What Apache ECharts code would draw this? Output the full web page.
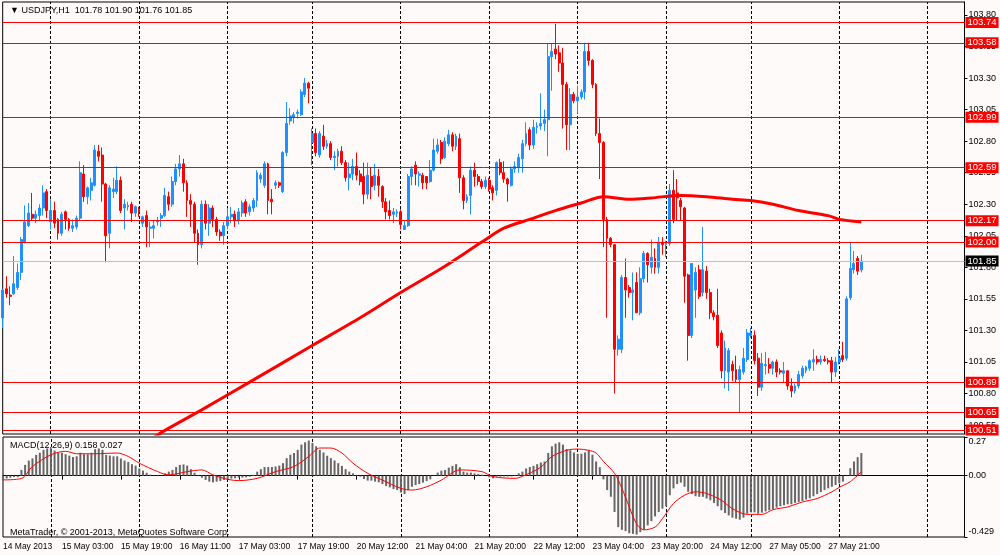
<!DOCTYPE html>
<html>
<head>
<meta charset="utf-8">
<title>USDJPY,H1</title>
<script src="https://cdn.jsdelivr.net/npm/echarts@6/dist/echarts.min.js"></script>
<style>html,body{margin:0;padding:0;background:#fffafa}</style>
</head>
<body>
<div id="main" style="width:1000px;height:555px"></div>
<script>
// time axis labels, one every 16 bars
var tickLabels = ['14 May 2013', '15 May 03:00', '15 May 19:00', '16 May 11:00', '17 May 03:00',
  '17 May 19:00', '20 May 12:00', '21 May 04:00', '21 May 20:00', '22 May 12:00',
  '23 May 04:00', '23 May 20:00', '24 May 12:00', '27 May 05:00', '27 May 21:00'];
var levels = [103.74, 103.58, 102.99, 102.59, 102.17, 102.00, 100.89, 100.65, 100.51];
var lastPrice = 101.85;
var dayLines = [13, 37, 61, 84, 108, 132, 156, 180, 203, 227, 251];
var priceTicks = [100.55, 100.80, 101.05, 101.30, 101.55, 101.80, 102.05, 102.30, 102.55, 102.80, 103.05, 103.30, 103.55, 103.80];
var macdTicks = [0.27, 0, -0.429];

// open, close, low, high
var candles = [
  [101.40,101.62,101.32,101.63],[101.63,101.59,101.56,101.73],[101.58,101.57,101.50,101.65],[101.59,101.67,101.58,101.89],[101.64,101.76,101.62,101.83],
  [101.76,102.02,101.70,102.04],[102.00,102.16,101.99,102.29],[102.13,102.23,102.12,102.31],[102.22,102.19,102.17,102.39],[102.19,102.22,102.15,102.25],
  [102.21,102.27,102.17,102.30],[102.27,102.39,102.21,102.45],[102.40,102.25,102.19,102.42],[102.16,102.25,102.10,102.34],[102.25,102.15,102.11,102.32],
  [102.18,102.07,102.02,102.19],[102.07,102.22,102.05,102.24],[102.24,102.18,102.10,102.25],[102.18,102.11,102.09,102.19],[102.11,102.13,102.08,102.18],
  [102.12,102.19,102.10,102.21],[102.19,102.55,102.17,102.64],[102.54,102.36,102.32,102.61],[102.36,102.43,102.30,102.44],[102.41,102.47,102.33,102.51],
  [102.45,102.73,102.44,102.77],[102.72,102.68,102.64,102.77],[102.69,102.46,102.32,102.75],[102.46,102.05,101.84,102.47],[102.07,102.43,101.95,102.45],
  [102.40,102.42,102.35,102.51],[102.40,102.49,102.38,102.60],[102.49,102.25,102.23,102.52],[102.27,102.30,102.10,102.34],[102.28,102.29,102.25,102.32],
  [102.30,102.23,102.16,102.32],[102.23,102.28,102.20,102.29],[102.26,102.24,102.20,102.28],[102.15,102.20,102.12,102.21],[102.21,102.12,101.96,102.25],
  [102.11,102.12,101.96,102.16],[102.11,102.13,102.03,102.17],[102.16,102.17,102.13,102.20],[102.19,102.21,102.12,102.23],[102.21,102.37,102.20,102.43],
  [102.36,102.30,102.25,102.40],[102.30,102.48,102.28,102.52],[102.48,102.58,102.45,102.62],[102.58,102.62,102.52,102.69],[102.62,102.47,102.40,102.66],
  [102.47,102.33,102.20,102.49],[102.33,102.30,102.12,102.38],[102.30,102.07,102.00,102.32],[102.07,101.98,101.82,102.10],[101.98,102.30,101.95,102.33],
  [102.30,102.15,102.10,102.33],[102.15,102.27,102.05,102.30],[102.27,102.18,102.12,102.29],[102.18,102.08,102.05,102.20],[102.08,102.05,102.01,102.10],
  [102.05,102.13,101.98,102.16],[102.13,102.20,102.10,102.27],[102.20,102.22,102.15,102.28],[102.22,102.17,102.12,102.25],[102.17,102.24,102.14,102.27],
  [102.23,102.31,102.20,102.33],[102.32,102.23,102.20,102.34],[102.24,102.28,102.21,102.30],[102.27,102.33,102.24,102.35],[102.33,102.55,102.28,102.57],
  [102.50,102.53,102.47,102.55],[102.45,102.62,102.43,102.64],[102.62,102.33,102.22,102.63],[102.34,102.32,102.22,102.42],[102.45,102.47,102.42,102.49],
  [102.47,102.45,102.43,102.48],[102.40,102.71,102.39,102.72],[102.71,102.94,102.68,103.11],[102.96,103.00,102.93,103.06],[102.99,103.01,102.94,103.03],
  [103.02,103.03,102.98,103.05],[103.01,103.19,103.00,103.21],[103.17,103.26,103.15,103.30],[103.26,103.22,103.10,103.27],[102.79,102.86,102.61,102.90],
  [102.86,102.71,102.68,102.90],[102.69,102.86,102.67,102.88],[102.84,102.76,102.73,102.93],[102.76,102.78,102.74,102.81],[102.78,102.67,102.65,102.80],
  [102.67,102.68,102.57,102.72],[102.68,102.72,102.60,102.74],[102.72,102.63,102.61,102.76],[102.63,102.51,102.48,102.65],[102.51,102.54,102.41,102.63],
  [102.54,102.60,102.49,102.66],[102.60,102.53,102.49,102.71],[102.54,102.48,102.45,102.57],[102.52,102.38,102.30,102.63],[102.38,102.53,102.34,102.63],
  [102.52,102.44,102.34,102.59],[102.45,102.53,102.41,102.62],[102.52,102.45,102.36,102.58],[102.44,102.32,102.27,102.45],[102.32,102.24,102.18,102.35],
  [102.25,102.21,102.18,102.33],[102.22,102.24,102.15,102.27],[102.23,102.24,102.20,102.26],[102.24,102.14,102.10,102.26],[102.10,102.13,102.10,102.17],
  [102.13,102.52,102.12,102.54],[102.52,102.58,102.45,102.60],[102.61,102.54,102.45,102.64],[102.53,102.54,102.44,102.56],[102.53,102.47,102.42,102.55],
  [102.52,102.47,102.42,102.52],[102.48,102.57,102.47,102.65],[102.57,102.73,102.56,102.82],[102.72,102.77,102.70,102.82],[102.79,102.66,102.62,102.81],
  [102.67,102.80,102.66,102.83],[102.78,102.85,102.76,102.89],[102.85,102.76,102.72,102.87],[102.76,102.84,102.73,102.86],[102.82,102.51,102.39,102.86],
  [102.51,102.33,102.26,102.53],[102.33,102.36,102.31,102.38],[102.37,102.57,102.22,102.60],[102.57,102.52,102.44,102.63],[102.52,102.48,102.45,102.54],
  [102.48,102.44,102.42,102.50],[102.44,102.49,102.42,102.52],[102.49,102.42,102.40,102.51],[102.43,102.39,102.33,102.45],[102.41,102.63,102.37,102.64],
  [102.63,102.55,102.53,102.66],[102.55,102.50,102.47,102.64],[102.50,102.46,102.32,102.51],[102.45,102.58,102.44,102.60],[102.58,102.60,102.55,102.64],
  [102.59,102.67,102.55,102.70],[102.66,102.78,102.55,102.81],[102.78,102.86,102.76,102.95],[102.89,102.77,102.73,102.91],[102.77,102.91,102.74,102.97],
  [102.91,102.92,102.86,102.95],[102.92,102.94,102.89,103.18],[102.94,102.97,102.88,103.05],[102.97,103.47,102.68,103.57],[103.47,103.51,103.20,103.57],
  [103.53,103.49,103.45,103.73],[103.50,103.42,103.35,103.56],[103.42,103.25,102.90,103.54],[103.25,102.93,102.73,103.27],[102.93,103.17,102.73,103.22],
  [103.17,103.12,103.10,103.19],[103.12,103.15,103.02,103.24],[103.15,103.19,103.13,103.21],[103.19,103.51,103.13,103.58],[103.51,103.44,103.40,103.58],
  [103.44,103.25,103.22,103.45],[103.25,102.86,102.84,103.26],[102.86,102.79,102.50,102.98],[102.79,102.18,101.96,102.80],[102.18,102.03,101.40,102.20],
  [102.03,101.98,101.96,102.04],[101.98,101.15,100.80,101.98],[101.15,101.23,101.10,101.26],[101.15,101.72,101.12,101.74],[101.72,101.62,101.40,101.87],
  [101.64,101.60,101.56,101.66],[101.60,101.62,101.38,101.76],[101.68,101.44,101.44,101.76],[101.44,101.71,101.42,101.80],[101.71,101.91,101.68,101.93],
  [101.91,101.82,101.68,101.92],[101.80,101.88,101.75,102.02],[101.87,101.80,101.75,101.95],[101.80,102.00,101.75,102.04],[102.00,101.98,101.90,102.04],
  [101.98,101.99,101.88,102.01],[101.99,102.41,101.97,102.46],[102.41,102.18,102.15,102.57],[102.39,102.35,102.17,102.50],[102.33,102.28,102.17,102.35],
  [102.27,101.73,101.52,102.28],[101.74,101.26,101.06,101.75],[101.26,101.83,101.24,101.83],[101.62,101.76,101.40,101.80],[101.78,101.57,101.55,101.82],
  [101.60,101.78,101.57,102.12],[101.77,101.60,101.55,101.81],[101.60,101.44,101.39,101.63],[101.44,101.41,101.38,101.46],[101.42,101.18,101.16,101.63],
  [101.28,100.98,100.92,101.30],[100.98,101.16,100.84,101.22],[100.97,101.14,100.82,101.16],[101.03,100.98,100.90,101.06],[100.99,100.91,100.89,101.10],
  [100.91,100.99,100.65,101.02],[100.97,101.08,100.95,101.16],[101.07,101.28,101.05,101.31],[101.26,101.28,101.24,101.32],[101.26,101.06,101.03,101.30],
  [101.08,100.85,100.78,101.12],[100.85,101.04,100.82,101.12],[101.02,101.03,100.95,101.13],[101.03,101.00,100.96,101.08],[101.00,101.05,100.95,101.06],
  [101.05,100.97,100.93,101.07],[100.98,100.97,100.95,101.00],[100.96,100.98,100.89,101.05],[100.98,100.86,100.83,100.98],[100.86,100.82,100.77,100.92],
  [100.82,100.86,100.80,100.88],[100.86,100.95,100.84,100.98],[100.94,101.00,100.92,101.02],[100.98,101.01,100.96,101.02],[101.00,101.06,100.98,101.07],
  [101.05,101.07,100.98,101.15],[101.07,101.05,101.03,101.10],[101.05,101.07,101.03,101.10],[101.07,101.06,101.05,101.10],[101.06,101.05,101.03,101.08],
  [101.06,100.97,100.89,101.09],[100.97,101.05,100.93,101.09],[101.05,101.08,101.03,101.15],[101.10,101.07,101.05,101.21],[101.08,101.55,101.06,101.57],
  [101.56,101.79,101.54,102.00],[101.78,101.83,101.75,101.93],[101.87,101.77,101.74,101.89],[101.78,101.85,101.76,101.90]
];

// moving average: [bar, price]
var maLine = [[40,100.43],[43,100.49],[54,100.67],[67,100.89],[84,101.18],[97,101.40],[108,101.60],[119,101.79],
  [130,102.00],[136,102.11],[143,102.18],[150,102.25],[157,102.31],[163,102.36],[170,102.34],[176,102.35],
  [184,102.37],[191,102.36],[198,102.34],[203,102.33],[209,102.30],[216,102.25],[224,102.21],[227,102.18],[233,102.16]];

var macdHist = [
  -0.03,-0.02,-0.015,-0.01,-0.01,0.04,0.075,0.105,0.12,0.145,
  0.16,0.18,0.19,0.19,0.175,0.16,0.16,0.15,0.14,0.13,
  0.135,0.16,0.15,0.15,0.16,0.185,0.19,0.18,0.145,0.14,
  0.135,0.135,0.12,0.105,0.095,0.08,0.07,0.05,0.035,0.02,
  0.007,-0.003,-0.003,0.002,0.016,0.028,0.04,0.06,0.075,0.078,
  0.07,0.045,0.02,-0.003,-0.015,-0.03,-0.042,-0.047,-0.042,-0.038,
  -0.03,-0.026,-0.021,-0.019,-0.014,-0.014,-0.012,-0.007,0.005,0.028,
  0.045,0.06,0.06,0.06,0.064,0.07,0.087,0.122,0.146,0.158,
  0.18,0.217,0.233,0.245,0.228,0.205,0.18,0.162,0.139,0.122,
  0.106,0.087,0.068,0.045,0.028,0.016,0.005,-0.007,-0.024,-0.035,
  -0.035,-0.042,-0.047,-0.059,-0.073,-0.082,-0.094,-0.101,-0.118,-0.129,
  -0.101,-0.078,-0.066,-0.059,-0.049,-0.038,-0.026,-0.002,0.021,0.035,
  0.04,0.056,0.068,0.08,0.059,0.028,0.021,0.021,0.016,0.012,
  0.007,0,-0.012,-0.019,-0.007,-0.007,-0.006,-0.006,-0.005,0.002,
  0.016,0.028,0.05,0.06,0.068,0.08,0.092,0.099,0.158,0.205,
  0.224,0.233,0.217,0.186,0.177,0.162,0.153,0.153,0.162,0.177,
  0.146,0.099,0.059,-0.026,-0.101,-0.148,-0.254,-0.36,-0.379,-0.388,
  -0.403,-0.407,-0.412,-0.395,-0.377,-0.348,-0.318,-0.285,-0.254,-0.231,
  -0.214,-0.137,-0.089,-0.059,-0.049,-0.078,-0.113,-0.129,-0.144,-0.148,
  -0.148,-0.16,-0.172,-0.191,-0.214,-0.242,-0.261,-0.278,-0.294,-0.301,
  -0.308,-0.294,-0.266,-0.257,-0.257,-0.266,-0.259,-0.25,-0.242,-0.233,
  -0.224,-0.214,-0.207,-0.2,-0.2,-0.191,-0.184,-0.177,-0.167,-0.158,
  -0.144,-0.129,-0.115,-0.101,-0.089,-0.078,-0.066,-0.054,-0.042,-0.002,
  0.052,0.099,0.129,0.158
];

var macdSignal = [[0,-0.03],[5,-0.02],[8,0.064],[13,0.146],[17,0.17],[20,0.153],[25,0.153],[31,0.158],[34,0.134],
  [37,0.087],[42,0.028],[45,0.005],[50,0.028],[54,0.04],[57,0.005],[61,-0.026],[64,-0.035],[69,-0.019],[74,0.028],
  [79,0.064],[83,0.134],[86,0.193],[89,0.193],[92,0.158],[95,0.087],[99,0.016],[103,-0.031],[108,-0.089],[111,-0.101],
  [115,-0.078],[119,-0.031],[124,0.04],[130,0.028],[133,-0.007],[139,-0.019],[141,-0.005],[146,0.059],[149,0.134],
  [153,0.177],[156,0.186],[159,0.177],[161,0.158],[163,0.099],[166,0.016],[168,-0.089],[170,-0.219],[172,-0.337],
  [174,-0.379],[177,-0.36],[179,-0.301],[182,-0.195],[185,-0.137],[188,-0.113],[191,-0.125],[195,-0.172],[198,-0.231],
  [202,-0.271],[206,-0.271],[209,-0.238],[213,-0.219],[217,-0.184],[221,-0.16],[225,-0.113],[227,-0.082],[230,-0.042],[233,0.027]];

var slots = 262;
var cats = [];
for (var i = 0; i < slots; i++) cats.push(String(i));

var FONT = 'Liberation Sans';
var showTick = function (idx) { return idx % 16 === 0 && idx <= 224; };

var chart = echarts.init(document.getElementById('main'));

var levelLines = levels.map(function (v) {
  return { yAxis: v, lineStyle: { color: '#ff0000', width: 1, type: 'solid' },
    label: { backgroundColor: '#ff0000', color: '#ffffff' } };
});
levelLines.push({ yAxis: lastPrice, lineStyle: { color: '#c0c0c0', width: 1, type: 'solid' },
  label: { backgroundColor: '#000000', color: '#ffffff' } });

var vLines = dayLines.map(function (d) { return { xAxis: d }; });

var option = {
  backgroundColor: '#fffafa',
  animation: false,
  textStyle: { fontFamily: FONT },
  title: [
    { text: '\u25BC USDJPY,H1  101.78 101.90 101.76 101.85', left: 5, top: 1,
      textStyle: { fontSize: 9, fontWeight: 'normal', color: '#000', fontFamily: FONT } },
    { text: 'MACD(12,26,9) 0.158 0.027', left: 5, top: 436,
      textStyle: { fontSize: 9, fontWeight: 'normal', color: '#000', fontFamily: FONT } },
    { text: 'MetaTrader, \u00A9 2001-2013, MetaQuotes Software Corp.', left: 5, top: 523,
      textStyle: { fontSize: 9, fontWeight: 'normal', color: '#000', fontFamily: FONT } }
  ],
  grid: [
    { left: 2.7, top: 2, width: 961.8, height: 432, show: true, borderColor: '#000', borderWidth: 1, backgroundColor: 'transparent' },
    { left: 2.7, top: 437, width: 961.8, height: 100, show: true, borderColor: '#000', borderWidth: 1, backgroundColor: 'transparent' }
  ],
  xAxis: [
    { type: 'category', gridIndex: 0, data: cats, boundaryGap: false,
      axisLine: { show: false }, axisTick: { show: false }, axisLabel: { show: false }, splitLine: { show: false } },
    { type: 'category', gridIndex: 1, data: cats, boundaryGap: false,
      axisLine: { show: true, lineStyle: { color: '#000' } },
      axisTick: { show: true, interval: showTick, length: 4, lineStyle: { color: '#000' } },
      axisLabel: { show: true, interval: showTick, align: 'left', margin: 5, fontSize: 8.5, color: '#000', fontFamily: FONT,
        formatter: function (v, idx) { return tickLabels[Math.round(idx / 16)] || ''; } },
      splitLine: { show: false } }
  ],
  yAxis: [
    { type: 'value', gridIndex: 0, position: 'right', min: 100.479, max: 103.903,
      axisLine: { show: true, lineStyle: { color: '#000' } },
      axisTick: { show: true, length: 3, customValues: priceTicks, lineStyle: { color: '#000' } },
      axisLabel: { show: true, customValues: priceTicks, margin: 4, fontSize: 9, color: '#000', fontFamily: FONT,
        formatter: function (v) { return v.toFixed(2); } },
      splitLine: { show: false } },
    { type: 'value', gridIndex: 1, position: 'right', min: -0.429, max: 0.27,
      axisLine: { show: true, lineStyle: { color: '#000' } },
      axisTick: { show: true, length: 3, customValues: macdTicks, lineStyle: { color: '#000' } },
      axisLabel: { show: true, customValues: macdTicks, margin: 4, fontSize: 9, color: '#000', fontFamily: FONT,
        formatter: function (v) {
          if (v > 0.2) return '{t|0.27}';
          if (v < -0.4) return '{b|-0.429}';
          return '0.00';
        },
        rich: { t: { padding: [10, 0, 0, 0], fontSize: 9, fontFamily: FONT }, b: { padding: [0, 0, 10, 0], fontSize: 9, fontFamily: FONT } } },
      splitLine: { show: false } }
  ],
  series: [
    {
      name: 'grid0', type: 'line', xAxisIndex: 0, yAxisIndex: 0, data: [], silent: true,
      markLine: { silent: true, symbol: ['none', 'none'], z: 1, label: { show: false },
        lineStyle: { color: '#000', width: 1, type: [3, 2] }, data: vLines }
    },
    {
      name: 'USDJPY', type: 'candlestick', xAxisIndex: 0, yAxisIndex: 0, data: candles, clip: false,
      barWidth: 2.4,
      itemStyle: { color: '#1e90ff', color0: '#ff0000', borderColor: '#1e90ff', borderColor0: '#ff0000', borderWidth: 1 },
      markLine: { silent: true, symbol: ['none', 'none'],
        label: { show: true, position: 'end', distance: 1, fontSize: 9.5, fontFamily: FONT, padding: [1, 2, 0, 2],
          formatter: function (p) { return p.value.toFixed(2); } },
        data: levelLines }
    },
    {
      name: 'MA', type: 'line', xAxisIndex: 0, yAxisIndex: 0, data: maLine, smooth: 0.3, showSymbol: false,
      clip: true, lineStyle: { color: '#ff0000', width: 3 }, z: 3
    },
    {
      name: 'MACD', type: 'bar', xAxisIndex: 1, yAxisIndex: 1, data: macdHist, barWidth: 2,
      itemStyle: { color: '#666666' },
      markLine: { silent: true, symbol: ['none', 'none'], z: 1, label: { show: false },
        lineStyle: { color: '#000', width: 1, type: [3, 2] }, data: vLines }
    },
    {
      name: 'Signal', type: 'line', xAxisIndex: 1, yAxisIndex: 1, data: macdSignal, smooth: 0.3, showSymbol: false,
      lineStyle: { color: '#ff0000', width: 1 }
    }
  ]
};
chart.setOption(option);
</script>
</body>
</html>
